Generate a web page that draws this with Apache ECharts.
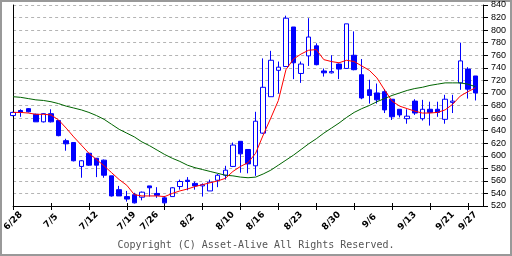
<!DOCTYPE html>
<html><head><meta charset="utf-8">
<script src="https://cdn.jsdelivr.net/npm/echarts@6/dist/echarts.min.js"></script>
<style>html,body{margin:0;padding:0;background:#fff}#c{width:512px;height:256px}</style>
</head><body><div id="c"></div>
<script>
const dates = ['6/28','6/29','6/30','7/1','7/2','7/5','7/6','7/7','7/8','7/9','7/12','7/13','7/14','7/15','7/16','7/19','7/20','7/21','7/26','7/27','7/28','7/29','7/30','8/2','8/3','8/4','8/5','8/6','8/10','8/11','8/12','8/13','8/16','8/17','8/18','8/19','8/20','8/23','8/24','8/25','8/26','8/27','8/30','8/31','9/1','9/2','9/3','9/6','9/7','9/8','9/9','9/10','9/13','9/14','9/15','9/16','9/17','9/21','9/22','9/24','9/27','9/28'];
const weekLabels = ['6/28','7/5','7/12','7/19','7/26','8/2','8/10','8/16','8/23','8/30','9/6','9/13','9/21','9/27'];
const opens = [664,672,675,666,654,667,656,624,621,583, 604,596,593,568,546,535,538,534,552,540, 533,535,551,561,556,552,544,561,569,583, 623,610,584,636,694,736,742,805,731,759, 775,735,732,746,739,760,729,705,700,702, 690,674,659,687,659,674,674,658,685,716, 738,727];
const closes = [669,669,670,654,667,654,632,619,592,592, 585,585,569,536,536,531,525,542,549,537, 525,549,559,559,552,554,558,569,577,617, 603,587,655,709,752,741,819,748,746,789, 745,732,734,738,810,737,692,696,689,673, 662,665,663,668,674,669,669,690,687,751, 706,700];
const lows = [663,662,669,654,653,653,631,608,591,565, 584,566,565,535,536,527,524,529,535,533, 524,535,546,545,546,535,544,550,562,582, 573,572,568,635,694,699,742,722,716,743, 744,726,731,722,739,736,690,683,683,668, 657,661,651,665,656,648,662,651,668,705, 691,688];
const highs = [670,674,676,667,668,674,656,627,621,593, 604,596,594,568,552,544,541,543,552,550, 536,550,562,566,559,556,562,571,584,621, 623,610,670,755,767,750,823,805,750,819, 779,739,760,747,810,798,754,721,715,706, 690,674,674,690,689,686,686,697,697,780, 741,727];
const ma5 = [669,669,668,666,666,665,657,644,630,617, 604,594,584,573,562,553,538,536,536,536, 535,540,544,547,551,554,557,560,564,575, 583,589,604,633,660,688,737,754,762,768, 769,753,750,748,752,750,743,736,724,705, 687,679,675,671,668,668,669,673,682,695, 702,708];
const ma25 = [694,693,691,689,688,686,683,679,676,673, 669,664,658,650,642,636,630,622,616,609, 602,596,591,585,581,578,575,572,569,568, 566,565,566,571,577,585,593,601,610,619, 627,636,644,652,661,669,675,680,686,691, 696,700,704,707,709,712,714,716,716,716, 714,710];
const yMin = 520, yMax = 840, yStep = 20;
const copyright = 'Copyright (C) Asset-Alive All Rights Reserved.';

const cats = dates.concat(['']);
const candles = opens.map((o, i) => [o, closes[i], lows[i], highs[i]]);

const chart = echarts.init(document.getElementById('c'), null, {renderer: 'canvas'});
const tickEvery5 = (idx) => idx % 5 === 0;
chart.setOption({
  animation: false,
  backgroundColor: '#fff',
  grid: {left: 11, right: 29, top: 5, bottom: 50, containLabel: false},
  xAxis: [{
    type: 'category', data: cats, boundaryGap: false, position: 'bottom',
    axisLine: {show: true, lineStyle: {color: '#000', width: 1}},
    axisTick: {show: true, inside: false, length: 4, interval: tickEvery5, lineStyle: {color: '#000'}},
    axisLabel: {
      show: true, rotate: 45, align: 'center', verticalAlign: 'middle', margin: 15,
      interval: (idx, val) => weekLabels.indexOf(val) >= 0,
      fontSize: 9, fontFamily: 'DejaVu Sans', color: '#000', fontWeight: 'bold'
    },
    splitLine: {show: false}
  }, {
    type: 'category', data: cats, boundaryGap: false, position: 'bottom',
    axisLine: {show: false},
    axisTick: {show: true, inside: true, length: 3, interval: tickEvery5, lineStyle: {color: '#000'}},
    axisLabel: {show: false}, splitLine: {show: false}
  }],
  yAxis: [{
    type: 'value', position: 'right', min: yMin, max: yMax, interval: yStep,
    axisLine: {show: true, lineStyle: {color: '#000'}},
    axisTick: {show: true, length: 5, lineStyle: {color: '#000'}},
    axisLabel: {show: true, margin: 8, fontSize: 9, fontFamily: 'Liberation Sans', color: '#000'},
    splitLine: {show: true, lineStyle: {color: '#b4b4b4', type: [3, 3], width: 1}}
  }, {
    type: 'value', position: 'left', min: yMin, max: yMax, interval: yStep,
    axisLine: {show: true, lineStyle: {color: '#000'}},
    axisTick: {show: false}, axisLabel: {show: false}, splitLine: {show: false}
  }],
  series: [{
    type: 'candlestick', data: candles, barWidth: 5, clip: false,
    itemStyle: {color: '#ffffff', color0: '#0000ff', borderColor: '#0000ff', borderColor0: '#0000ff', borderWidth: 1}
  }, {
    type: 'line', data: ma25, symbol: 'none', smooth: false,
    lineStyle: {color: '#006400', width: 1}
  }, {
    type: 'line', data: ma5, symbol: 'none', smooth: false,
    lineStyle: {color: '#ff0000', width: 1}
  }],
  graphic: [{
    type: 'rect', shape: {x: 1, y: 1, width: 510, height: 254},
    style: {fill: 'none', stroke: '#999', lineWidth: 2}, silent: true
  }, {
    type: 'text', x: 256, y: 245,
    style: {text: copyright, font: '10px "DejaVu Sans Mono"', fill: '#555', textAlign: 'center', textVerticalAlign: 'middle'}
  }]
});
</script></body></html>
